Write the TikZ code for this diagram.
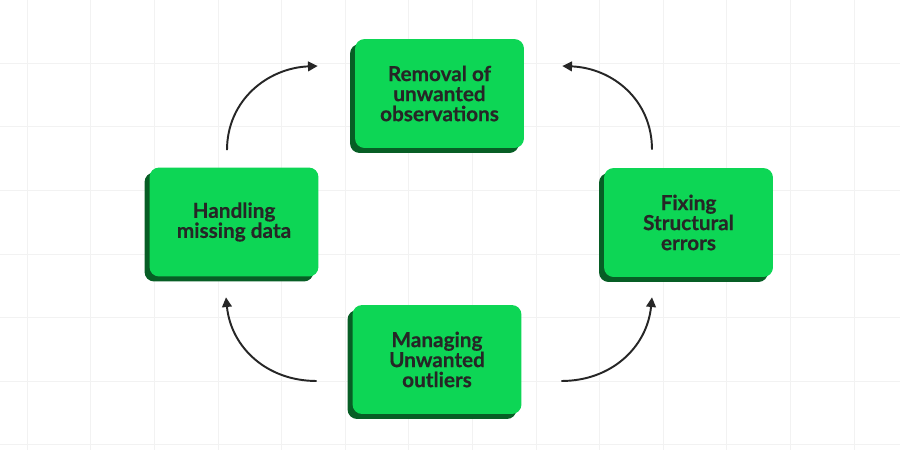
\documentclass[tikz,border=0pt]{standalone}
\usepackage{fontspec}
\setmainfont{Lato}[BoldFeatures={FakeBold=0.4}]
\usetikzlibrary{arrows.meta,shadows}
\definecolor{stagegreen}{HTML}{0DD655}
\definecolor{stageshade}{HTML}{075E25}
\definecolor{inkgray}{HTML}{262626}
\definecolor{gridgray}{HTML}{F2F2F2}

\begin{document}
\begin{tikzpicture}[x=0.02cm, y=-0.02cm,
  stage/.style={fill=stagegreen, rounded corners=5.5pt, minimum width=3.38cm, minimum height=2.18cm,
    align=center, text=inkgray, font=\fontsize{11.8}{11.4}\selectfont\bfseries,
    drop shadow={shadow xshift=-0.1cm, shadow yshift=-0.1cm, fill=stageshade, opacity=1}},
  flow/.style={draw=inkgray, line width=1.1pt, -{Triangle[length=5.5pt,width=5.5pt]}},
  gridline/.style={draw=gridgray, line width=0.6pt}]
\fill[white] (0,0) rectangle (900,450);
\useasboundingbox (0,0) rectangle (900,450);
\foreach \gx in {0,...,13} \draw[gridline] (27.3+63.6*\gx,0) -- (27.3+63.6*\gx,450);
\foreach \gy in {1,...,7} \draw[gridline] (0,-0.3+63.6*\gy) -- (900,-0.3+63.6*\gy);

\node[stage] (removal) at (439.5,93.5) {Removal of\\unwanted\\observations};
\node[stage] (handling) at (234,222) {Handling\\missing data};
\node[stage] (fixing) at (688.5,222.5) {Fixing\\Structural\\errors};
\node[stage] (managing) at (437,359.5) {Managing\\Unwanted\\outliers};

\draw[flow] ([shift={(-7,-17)}]handling.north) .. controls +(0,-50) and +(-50,2) .. ([shift={(-37,-27.5)}]removal.west);
\draw[flow] ([shift={(-36.5,-18)}]fixing.north) .. controls +(0,-50) and +(50,2) .. ([shift={(38,-27.5)}]removal.east);
\draw[flow] ([shift={(39.5,21.5)}]managing.east) .. controls +(50,0) and +(-5,50) .. ([shift={(-36.5,20)}]fixing.south);
\draw[flow] ([shift={(-35.5,21.5)}]managing.west) .. controls +(-50,0) and +(5,50) .. ([shift={(-8,20.5)}]handling.south);
\end{tikzpicture}
\end{document}
